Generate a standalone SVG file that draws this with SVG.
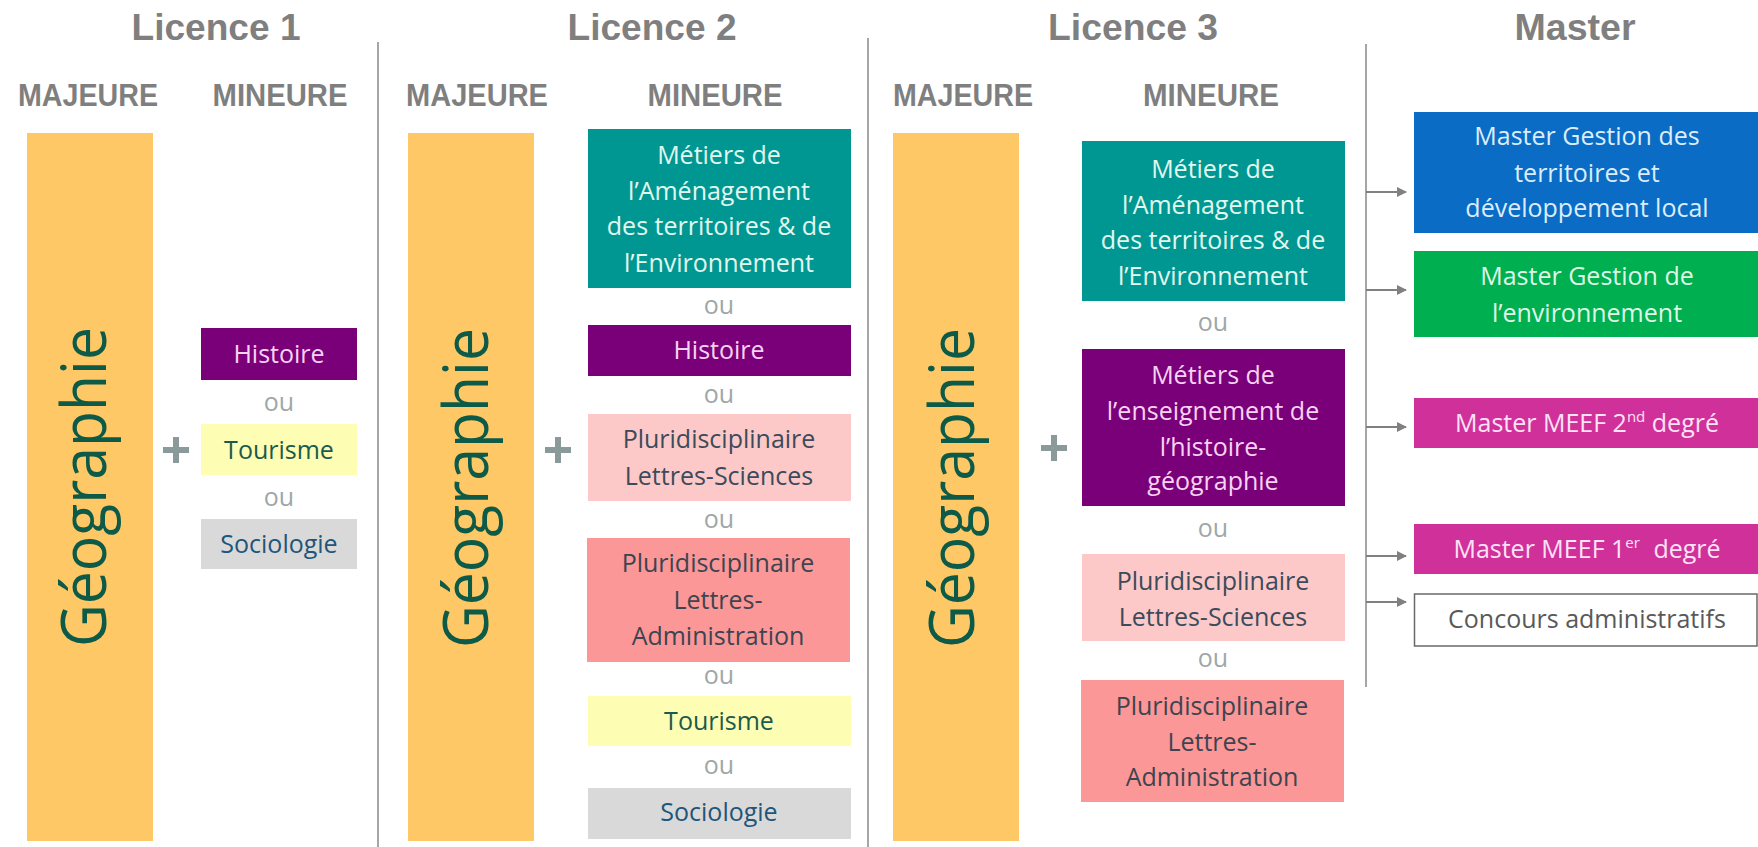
<svg xmlns="http://www.w3.org/2000/svg" width="1758" height="847" viewBox="0 0 1758 847">
<defs>
<style>
.hd{font-family:"Liberation Sans",Arial,sans-serif;font-weight:bold;fill:#7f7f7f;text-anchor:middle}
.lic{font-size:36px}
.sub{font-size:31px}
.bar{fill:#fdc865}
.geo{font-family:"Open Sans","Noto Sans",sans-serif;font-size:62px;fill:#0d5a48;text-anchor:middle}
.t{font-family:"Open Sans","Noto Sans",sans-serif;font-size:25px;text-anchor:middle}
.ou{font-family:"Open Sans","Noto Sans",sans-serif;font-size:25px;text-anchor:middle;fill:#9ea7a7}
.div{stroke:#a6a6a6;stroke-width:2}
.plus{stroke:#8a9a9a;stroke-width:6}
.arr{stroke:#808080;stroke-width:2;fill:none}
.teal{fill:#009792}.tealT{fill:#e2f7ef}
.pur{fill:#7a007a}.purT{fill:#f8d2f2}
.tour{fill:#fefdb4}.tourT{fill:#1c5b4c}
.soc{fill:#d9d9d9}.socT{fill:#21557a}
.pls{fill:#fdc9c8}.plsT{fill:#3b4b5b}
.pla{fill:#fb9797}.plaT{fill:#3d4450}
.blue{fill:#0a6cc4}.blueT{fill:#dcecfb}
.green{fill:#00b050}.greenT{fill:#dff7e6}
.meef{fill:#d0309a}.meefT{fill:#fde3f5}
.conc{fill:#ffffff;stroke:#6a6a6a;stroke-width:1.5}.concT{fill:#595959}
</style>
<marker id="ah" markerWidth="10" markerHeight="10" refX="9" refY="5" orient="auto" markerUnits="userSpaceOnUse">
<path d="M0,0 L10,5 L0,10 z" fill="#808080"/>
</marker>
</defs>
<rect width="1758" height="847" fill="#ffffff"/>

<g id="headers">
<text class="hd lic" x="216" y="40" textLength="169" lengthAdjust="spacingAndGlyphs">Licence 1</text>
<text class="hd lic" x="652" y="40" textLength="169" lengthAdjust="spacingAndGlyphs">Licence 2</text>
<text class="hd lic" x="1133" y="40" textLength="170" lengthAdjust="spacingAndGlyphs">Licence 3</text>
<text class="hd lic" x="1575" y="40" textLength="121" lengthAdjust="spacingAndGlyphs">Master</text>
<text class="hd sub" x="88" y="106" textLength="140" lengthAdjust="spacingAndGlyphs">MAJEURE</text>
<text class="hd sub" x="280" y="106" textLength="135" lengthAdjust="spacingAndGlyphs">MINEURE</text>
<text class="hd sub" x="477" y="106" textLength="142" lengthAdjust="spacingAndGlyphs">MAJEURE</text>
<text class="hd sub" x="715" y="106" textLength="135" lengthAdjust="spacingAndGlyphs">MINEURE</text>
<text class="hd sub" x="963" y="106" textLength="140" lengthAdjust="spacingAndGlyphs">MAJEURE</text>
<text class="hd sub" x="1211" y="106" textLength="136" lengthAdjust="spacingAndGlyphs">MINEURE</text>
</g>

<g id="dividers">
<line class="div" x1="378" y1="42" x2="378" y2="847"/>
<line class="div" x1="868" y1="38" x2="868" y2="847"/>
<line class="div" x1="1366" y1="44" x2="1366" y2="687"/>
</g>

<g id="l1-majeure">
<rect class="bar" x="27" y="133" width="126" height="708"/>
<text class="geo" transform="translate(106,487) rotate(-90)" textLength="320" lengthAdjust="spacingAndGlyphs">Géographie</text>
</g>
<g id="l1-plus"><path class="plus" d="M163,450 H189 M176,437 V463"/></g>
<g id="l1-histoire"><rect class="pur" x="201" y="328" width="156" height="52"/><text class="t purT" x="279" y="363">Histoire</text></g>
<text class="ou" x="279" y="411">ou</text>
<g id="l1-tourisme"><rect class="tour" x="201" y="424" width="156" height="51"/><text class="t tourT" x="279" y="459">Tourisme</text></g>
<text class="ou" x="279" y="506">ou</text>
<g id="l1-sociologie"><rect class="soc" x="201" y="519" width="156" height="50"/><text class="t socT" x="279" y="553">Sociologie</text></g>

<g id="l2-majeure">
<rect class="bar" x="408" y="133" width="126" height="708"/>
<text class="geo" transform="translate(488,488) rotate(-90)" textLength="320" lengthAdjust="spacingAndGlyphs">Géographie</text>
</g>
<g id="l2-plus"><path class="plus" d="M545,450 H571 M558,437 V463"/></g>
<g id="l2-amenagement"><rect class="teal" x="588" y="129" width="263" height="159"/>
<text class="t tealT" x="719" y="164">Métiers de</text>
<text class="t tealT" x="719" y="200">l’Aménagement</text>
<text class="t tealT" x="719" y="235">des territoires &amp; de</text>
<text class="t tealT" x="719" y="272">l’Environnement</text></g>
<text class="ou" x="719" y="314">ou</text>
<g id="l2-histoire"><rect class="pur" x="588" y="325" width="263" height="51"/><text class="t purT" x="719" y="359">Histoire</text></g>
<text class="ou" x="719" y="403">ou</text>
<g id="l2-pluri-sciences"><rect class="pls" x="588" y="414" width="263" height="87"/>
<text class="t plsT" x="719" y="448">Pluridisciplinaire</text>
<text class="t plsT" x="719" y="485">Lettres-Sciences</text></g>
<text class="ou" x="719" y="528">ou</text>
<g id="l2-pluri-admin"><rect class="pla" x="587" y="538" width="263" height="124"/>
<text class="t plaT" x="718" y="572">Pluridisciplinaire</text>
<text class="t plaT" x="718" y="609">Lettres-</text>
<text class="t plaT" x="718" y="645">Administration</text></g>
<text class="ou" x="719" y="684">ou</text>
<g id="l2-tourisme"><rect class="tour" x="588" y="696" width="263" height="50"/><text class="t tourT" x="719" y="730">Tourisme</text></g>
<text class="ou" x="719" y="774">ou</text>
<g id="l2-sociologie"><rect class="soc" x="588" y="788" width="263" height="51"/><text class="t socT" x="719" y="821">Sociologie</text></g>

<g id="l3-majeure">
<rect class="bar" x="893" y="133" width="126" height="708"/>
<text class="geo" transform="translate(974,488) rotate(-90)" textLength="320" lengthAdjust="spacingAndGlyphs">Géographie</text>
</g>
<g id="l3-plus"><path class="plus" d="M1041,448 H1067 M1054,435 V461"/></g>
<g id="l3-amenagement"><rect class="teal" x="1082" y="141" width="263" height="160"/>
<text class="t tealT" x="1213" y="178">Métiers de</text>
<text class="t tealT" x="1213" y="214">l’Aménagement</text>
<text class="t tealT" x="1213" y="249">des territoires &amp; de</text>
<text class="t tealT" x="1213" y="285">l’Environnement</text></g>
<text class="ou" x="1213" y="331">ou</text>
<g id="l3-enseignement"><rect class="pur" x="1082" y="349" width="263" height="157"/>
<text class="t purT" x="1213" y="384">Métiers de</text>
<text class="t purT" x="1213" y="420">l’enseignement de</text>
<text class="t purT" x="1213" y="456">l’histoire-</text>
<text class="t purT" x="1213" y="490">géographie</text></g>
<text class="ou" x="1213" y="537">ou</text>
<g id="l3-pluri-sciences"><rect class="pls" x="1082" y="554" width="263" height="87"/>
<text class="t plsT" x="1213" y="590">Pluridisciplinaire</text>
<text class="t plsT" x="1213" y="626">Lettres-Sciences</text></g>
<text class="ou" x="1213" y="667">ou</text>
<g id="l3-pluri-admin"><rect class="pla" x="1081" y="680" width="263" height="122"/>
<text class="t plaT" x="1212" y="715">Pluridisciplinaire</text>
<text class="t plaT" x="1212" y="751">Lettres-</text>
<text class="t plaT" x="1212" y="786">Administration</text></g>

<g id="m-territoires"><rect class="blue" x="1414" y="112" width="344" height="121"/>
<text class="t blueT" x="1587" y="145">Master Gestion des</text>
<text class="t blueT" x="1587" y="182">territoires et</text>
<text class="t blueT" x="1587" y="217">développement local</text></g>
<g id="m-environnement"><rect class="green" x="1414" y="251" width="344" height="86"/>
<text class="t greenT" x="1587" y="285">Master Gestion de</text>
<text class="t greenT" x="1587" y="322">l’environnement</text></g>
<g id="m-meef2"><rect class="meef" x="1414" y="398" width="344" height="50"/>
<text class="t meefT" x="1587" y="432">Master MEEF 2<tspan font-size="15" dy="-10">nd</tspan><tspan dy="10"> degré</tspan></text></g>
<g id="m-meef1"><rect class="meef" x="1414" y="524" width="344" height="50"/>
<text class="t meefT" x="1587" y="558">Master MEEF 1<tspan font-size="15" dy="-10">er</tspan><tspan dy="10" dx="7"> degré</tspan></text></g>
<g id="m-concours"><rect class="conc" x="1414.5" y="594" width="342.5" height="52"/>
<text class="t concT" x="1587" y="628">Concours administratifs</text></g>

<g id="connectors">
<line class="arr" x1="1366" y1="192" x2="1406" y2="192" marker-end="url(#ah)"/>
<line class="arr" x1="1366" y1="290" x2="1406" y2="290" marker-end="url(#ah)"/>
<line class="arr" x1="1366" y1="427" x2="1406" y2="427" marker-end="url(#ah)"/>
<line class="arr" x1="1366" y1="556" x2="1406" y2="556" marker-end="url(#ah)"/>
<line class="arr" x1="1366" y1="602" x2="1406" y2="602" marker-end="url(#ah)"/>
</g>
</svg>
